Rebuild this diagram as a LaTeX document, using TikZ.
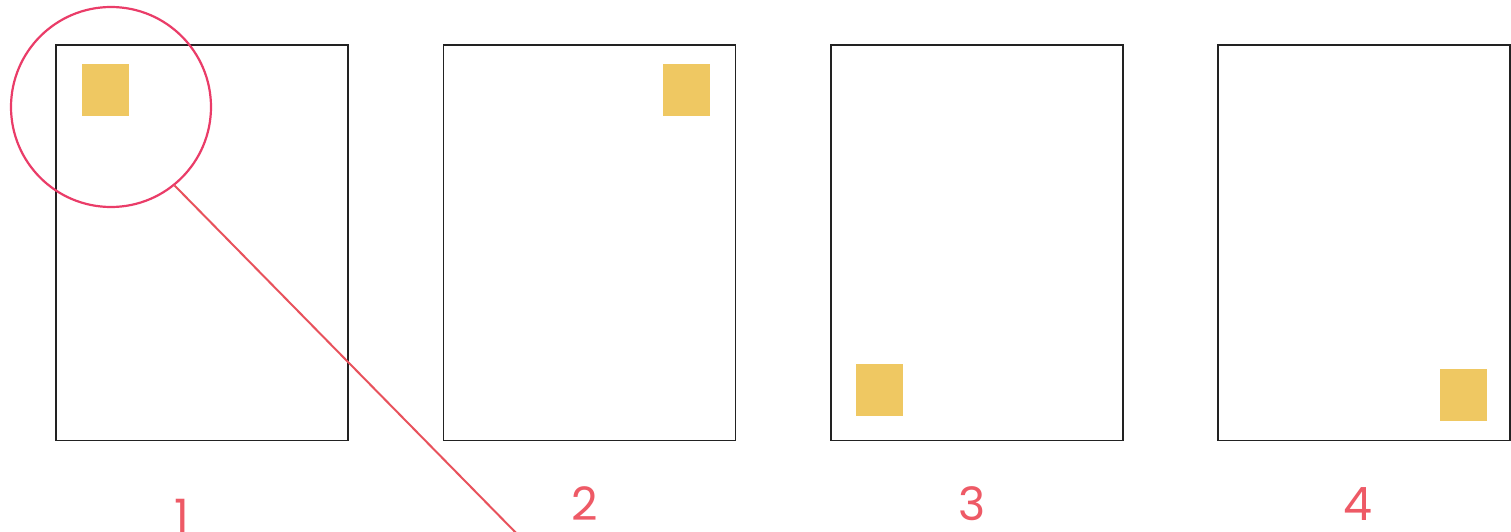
\documentclass[tikz,border=0pt]{standalone}
\usepackage{fontspec}
\setmainfont{Poppins}
\definecolor{frame}{HTML}{222222}
\definecolor{tile}{HTML}{EFC862}
\definecolor{ring}{HTML}{EA3C68}
\definecolor{lead}{HTML}{E8525C}
\definecolor{num}{HTML}{EE5A66}
\tikzset{
  page/.style={draw=frame, line width=1.5pt, minimum width=292pt, minimum height=395pt, inner sep=0pt, anchor=north west},
  tilebox/.style={fill=tile, minimum width=47pt, minimum height=52pt, inner sep=0pt, anchor=north west},
  lens/.style={draw=ring, line width=2.2pt, circle, minimum size=200pt, inner sep=0pt},
  numlabel/.style={text=num, font=\fontsize{46}{46}\selectfont, inner sep=0pt, text depth=0pt, anchor=base}
}
\begin{document}
\begin{tikzpicture}[x=1pt,y=-1pt]
\useasboundingbox (0,0) rectangle (1511,532);
\clip (0,0) rectangle (1511,532);
\fill[white] (0,0) rectangle (1511,532);
\node[page] (p1) at (55,44.5) {};
\node[page] (p2) at (442.5,44.5) {};
\node[page] (p3) at (830,44.5) {};
\node[page] (p4) at (1217,44.5) {};
\node[tilebox] (t1) at (82,64) {};
\node[tilebox] (t2) at (663,64) {};
\node[tilebox] (t3) at (856,364) {};
\node[tilebox] (t4) at (1440,369) {};
\node[lens] (zoom) at (111,107) {};
\coordinate (tail) at (523,540);
\draw[lead, line width=2pt] (zoom.-51.5) -- (tail);
\node[numlabel] (n1) at (182,532) {1};
\node[numlabel] (n2) at (585,520) {2};
\node[numlabel] (n3) at (972,520) {3};
\node[numlabel] (n4) at (1358,520) {4};
\end{tikzpicture}
\end{document}
